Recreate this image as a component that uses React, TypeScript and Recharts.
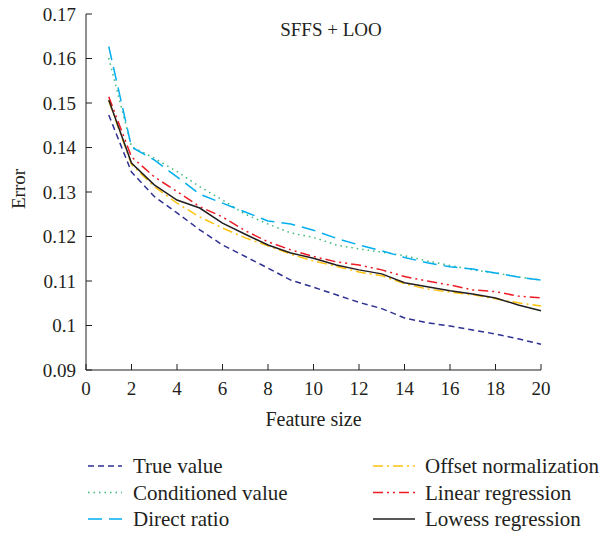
import { LineChart, Line, XAxis, YAxis, Label } from 'recharts';

const featureSize = [1, 2, 3, 4, 5, 6, 7, 8, 9, 10, 11, 12, 13, 14, 15, 16, 17, 18, 19, 20];

const trueValue = [0.1473, 0.1345, 0.129, 0.1253, 0.1215, 0.1181, 0.1155, 0.1129, 0.1102, 0.1086, 0.1069, 0.1052, 0.1038, 0.1017, 0.1006, 0.0999, 0.099, 0.0981, 0.097, 0.0958];
const conditionedValue = [0.1601, 0.1402, 0.1376, 0.1346, 0.1312, 0.1282, 0.125, 0.1228, 0.1208, 0.1198, 0.1181, 0.1172, 0.1165, 0.1157, 0.1145, 0.1135, 0.1125, 0.1118, 0.1109, 0.1102];
const directRatio = [0.1627, 0.1401, 0.1372, 0.1334, 0.1295, 0.1275, 0.1255, 0.1235, 0.1228, 0.1214, 0.1196, 0.1181, 0.1168, 0.1153, 0.1141, 0.1132, 0.1127, 0.1118, 0.1109, 0.1102];
const offsetNormalization = [0.1505, 0.1362, 0.1312, 0.1275, 0.1244, 0.1219, 0.1197, 0.1179, 0.116, 0.1145, 0.1133, 0.112, 0.1112, 0.1094, 0.1082, 0.1075, 0.1069, 0.106, 0.1051, 0.1044];
const linearRegression = [0.1514, 0.1379, 0.1334, 0.1301, 0.1267, 0.1244, 0.1213, 0.1188, 0.117, 0.1155, 0.1143, 0.1136, 0.1125, 0.111, 0.11, 0.1091, 0.108, 0.1076, 0.1066, 0.1062];
const lowessRegression = [0.1507, 0.1365, 0.1316, 0.1282, 0.1264, 0.123, 0.1205, 0.1181, 0.1163, 0.1151, 0.1136, 0.1125, 0.1116, 0.1096, 0.1087, 0.1078, 0.1071, 0.1062, 0.1046, 0.1033];

const xTicks = [0, 2, 4, 6, 8, 10, 12, 14, 16, 18, 20];
const yTicks = [0.09, 0.1, 0.11, 0.12, 0.13, 0.14, 0.15, 0.16, 0.17];

const series = [
  { key: 'trueValue', name: 'True value', values: trueValue, color: '#2e3192', dash: '6 4' },
  { key: 'conditioned', name: 'Conditioned value', values: conditionedValue, color: '#3cb878', dash: '1.5 4' },
  { key: 'direct', name: 'Direct ratio', values: directRatio, color: '#00aeef', dash: '14 7' },
  { key: 'offset', name: 'Offset normalization', values: offsetNormalization, color: '#ffc20e', dash: '10 4 2 4' },
  { key: 'linear', name: 'Linear regression', values: linearRegression, color: '#ed1c24', dash: '10 4 2 4 2 4' },
  { key: 'lowess', name: 'Lowess regression', values: lowessRegression, color: '#231f20', dash: undefined },
];

const data = featureSize.map((x, i) => {
  const row: Record<string, number> = { x };
  series.forEach((s) => {
    row[s.key] = s.values[i];
  });
  return row;
});

const FONT = '"Liberation Serif", "Times New Roman", serif';
const INK = '#231f20';
const tickStyle = { fill: INK, fontSize: 19, fontFamily: FONT };

export default function App() {
  return (
    <div style={{ position: 'absolute', left: 0, top: 0, width: 608, height: 535, background: '#fff' }}>
      <LineChart width={608} height={535} data={data} margin={{ top: 14, right: 67, bottom: 135, left: 0 }}>
        <XAxis
          dataKey="x"
          type="number"
          domain={[0, 20]}
          ticks={xTicks}
          tickSize={-6}
          tickMargin={18}
          height={30}
          stroke={INK}
          tick={tickStyle}
          interval={0}
        >
          <Label value="Feature size" position="bottom" offset={12} style={{ fill: INK, fontSize: 20, fontFamily: FONT }} />
        </XAxis>
        <YAxis
          type="number"
          domain={[0.09, 0.17]}
          ticks={yTicks}
          width={86}
          tickSize={-6}
          tickMargin={16}
          stroke={INK}
          tick={tickStyle}
          interval={0}
          label={{
            content: (props: any) => {
              const vb = props.viewBox || { x: 0, y: 14, width: 86, height: 356 };
              const cx = 25;
              const cy = vb.y + vb.height / 2 - 3;
              return (
                <text x={cx} y={cy} transform={`rotate(-90 ${cx} ${cy})`} textAnchor="middle" fill={INK} fontSize={19} fontFamily={FONT}>
                  Error
                </text>
              );
            },
          }}
        />
        {series.map((s) => (
          <Line
            key={s.key}
            dataKey={s.key}
            name={s.name}
            type="linear"
            stroke={s.color}
            strokeWidth={1.5}
            strokeDasharray={s.dash}
            dot={false}
            activeDot={false}
            isAnimationActive={false}
          />
        ))}
      </LineChart>
      <svg width={608} height={535} style={{ position: 'absolute', left: 0, top: 0, pointerEvents: 'none' }}>
        <text x={331} y={36} textAnchor="middle" fill={INK} fontSize={19} fontFamily={FONT}>
          SFFS + LOO
        </text>
        {series.map((s, i) => {
          const col = i < 3 ? 0 : 1;
          const row = i % 3;
          const x1 = col === 0 ? 88 : 373;
          const x2 = col === 0 ? 122 : 415;
          const tx = col === 0 ? 133 : 425;
          const y = 466 + row * 26.5;
          return (
            <g key={s.key}>
              <line x1={x1} x2={x2} y1={y} y2={y} stroke={s.color} strokeWidth={1.5} strokeDasharray={s.dash} />
              <text x={tx} y={y + 7} fill={INK} fontSize={21} fontFamily={FONT}>
                {s.name}
              </text>
            </g>
          );
        })}
      </svg>
    </div>
  );
}
